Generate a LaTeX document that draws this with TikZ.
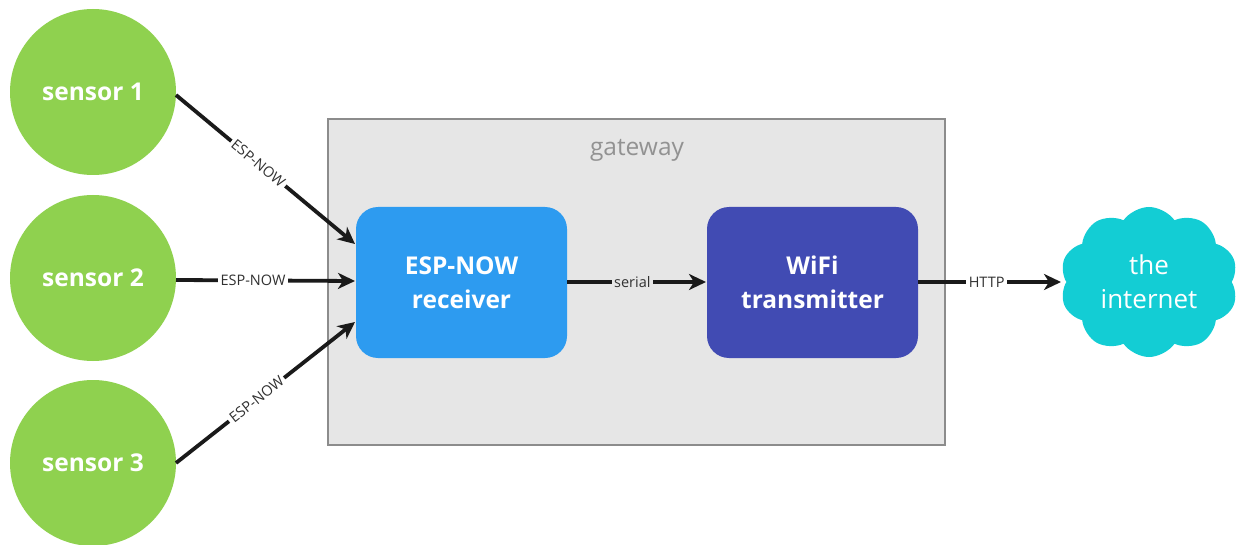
\documentclass[tikz,border=0pt]{standalone}
\usepackage{fontspec}
\setmainfont{Open Sans}
\usetikzlibrary{arrows.meta,shapes.symbols}
\definecolor{sgreen}{HTML}{8FD14F}
\definecolor{rblue}{HTML}{2D9BF0}
\definecolor{wblue}{HTML}{414BB3}
\definecolor{ccyan}{HTML}{13CDD4}
\definecolor{gbg}{HTML}{E6E6E6}
\definecolor{gborder}{HTML}{8C8C8C}
\definecolor{ink}{HTML}{1A1A1A}
\tikzset{
  sensor/.style={circle, fill=sgreen, minimum size=166pt, inner sep=0pt, text=white, font=\fontsize{24.5}{28}\selectfont\bfseries},
  block/.style={rounded corners=22pt, minimum width=211pt, minimum height=151pt, inner sep=0pt, text=white, align=center, font=\fontsize{24.5}{34}\selectfont\bfseries},
  conn/.style={ink, line width=3.8pt, -{Stealth[length=17pt,width=16pt,inset=5pt]}},
  lbl/.style={fill=white, inner sep=2.5pt, text=ink!90, font=\fontsize{14.5}{16}\selectfont},
}
\begin{document}
\begin{tikzpicture}[x=1pt,y=-1pt]
\useasboundingbox (0,0) rectangle (1238,545);
\clip (0,0) rectangle (1238,545);
% gateway
\node[draw=gborder, line width=1.6pt, fill=gbg, minimum width=617pt, minimum height=326pt, inner sep=0pt] (gw) at (636.5,282) {};
\node[text=gborder!95, font=\fontsize{24.5}{28}\selectfont] (gwl) at (637,150) {gateway};
% sensors
\node[sensor] (s1) at (93,92) {sensor 1};
\node[sensor] (s2) at (93,278) {sensor 2};
\node[sensor] (s3) at (93,463) {sensor 3};
% blocks
\node[block, fill=rblue] (rx) at (461.5,282.5) {ESP-NOW\\receiver};
\node[block, fill=wblue] (tx) at (812.5,282.5) {WiFi\\transmitter};
% cloud
\node[cloud, cloud puffs=10, cloud puff arc=110, aspect=1.2, fill=ccyan, minimum width=178pt, minimum height=150pt, inner sep=0pt, text=white, align=center, font=\fontsize{26}{34}\selectfont] (net) at (1149,282) {the\\internet};
% coordinates
\coordinate (a1) at (176,95);
\coordinate (b1) at (355,244);
\coordinate (a2) at (176,280);
\coordinate (b2) at (355,281);
\coordinate (a3) at (176,463);
\coordinate (b3) at (355,322);
\coordinate (a4) at (567,282);
\coordinate (b4) at (706,282);
\coordinate (a5) at (918,282);
\coordinate (b5) at (1061,282);
% connectors
\draw[conn] (a1) -- node[lbl, sloped, pos=0.46] {ESP-NOW} (b1);
\draw[conn] (a2) -- node[lbl, pos=0.43] {ESP-NOW} (b2);
\draw[conn] (a3) -- node[lbl, sloped, pos=0.45] {ESP-NOW} (b3);
\draw[conn] (a4) -- node[lbl, fill=gbg, pos=0.47] {serial} (b4);
\draw[conn] (a5) -- node[lbl, pos=0.48] {HTTP} (b5);
\end{tikzpicture}
\end{document}
